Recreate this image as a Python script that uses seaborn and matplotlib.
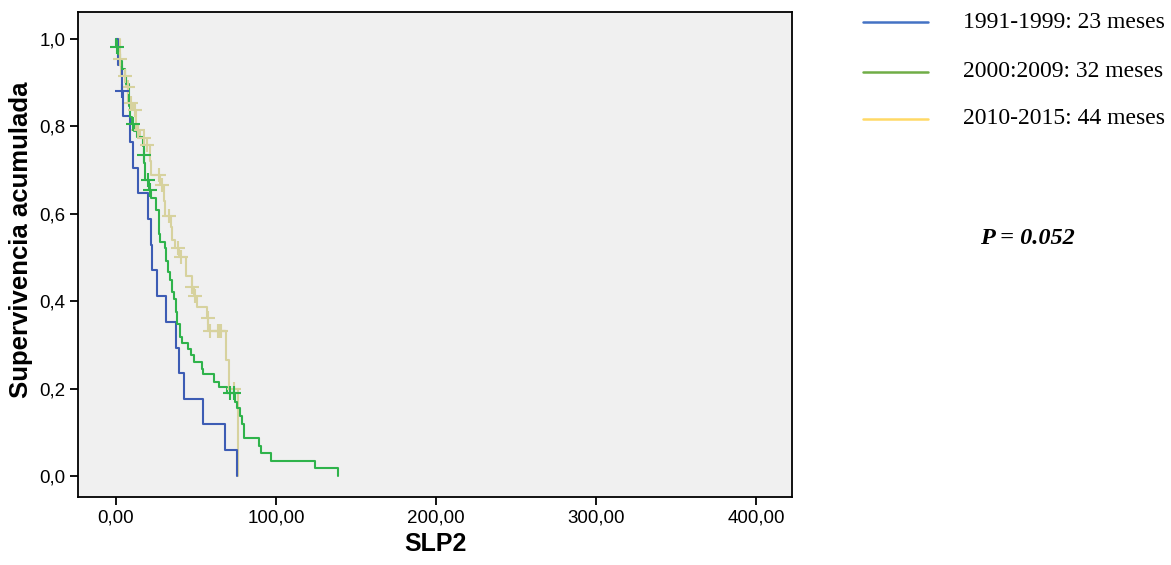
import matplotlib
matplotlib.use("Agg")
import matplotlib.pyplot as plt
from matplotlib.lines import Line2D
import seaborn as sns
import pandas as pd

# ---------------- data ----------------
blue_t = [0, 1.4, 3.8, 4.5, 8.8, 10.8, 13.9, 20.2, 21.7, 22.3, 25.4, 31.2, 37.5,
          39.4, 42.3, 54.4, 68.1, 75.4]
blue_s = [1.0, 0.941, 0.882, 0.824, 0.765, 0.706, 0.647, 0.588, 0.529, 0.471,
          0.412, 0.353, 0.294, 0.235, 0.176, 0.118, 0.059, 0.0]
blue_cens_t = [3.9]
blue_cens_s = [0.882]

green_t = [0, 0.2, 1.4, 2.2, 3.8, 5.5, 6.0, 8.0, 8.3, 8.6, 10.0, 11.0, 13.0, 16.8,
           17.2, 17.8, 18.0, 18.1, 20.6, 21.6, 25.2, 26.8, 27.1, 27.4, 30.6, 31.25,
           32.7, 33.8, 34.8, 36.25, 37.3, 38.3, 40.0, 41.0, 45.2, 46.9, 48.9, 53.6,
           54.2, 61.25, 64.4, 69.2, 74.4, 75.4, 77.5, 78.6, 80.3, 89.6, 90.6, 96.6,
           124.6, 138.6]
green_s = [1.0, 0.983, 0.966, 0.949, 0.932, 0.915, 0.898, 0.881, 0.847, 0.822,
           0.805, 0.790, 0.776, 0.755, 0.735, 0.716, 0.697, 0.678, 0.655, 0.636,
           0.609, 0.590, 0.555, 0.536, 0.521, 0.493, 0.467, 0.449, 0.422, 0.405,
           0.376, 0.349, 0.319, 0.305, 0.291, 0.277, 0.260, 0.246, 0.233, 0.216,
           0.203, 0.189, 0.170, 0.155, 0.137, 0.119, 0.086, 0.069, 0.052, 0.034,
           0.0176, 0.0]
green_cens_t = [0.5, 10.5, 17.5, 20.0, 21.2, 71.2, 74.0]
green_cens_s = [0.983, 0.805, 0.735, 0.678, 0.655, 0.189, 0.189]

tan_t = [0, 2.5, 3.0, 6.5, 7.8, 10.5, 12.5, 15.0, 17.8, 21.5, 21.9, 27.8, 30.0,
         30.5, 34.6, 34.8, 36.9, 39.5, 43.6, 43.8, 47.3, 48.5, 50.4, 56.6, 57.8,
         68.8, 70.8, 76.2]
tan_s = [1.0, 0.955, 0.915, 0.890, 0.853, 0.838, 0.792, 0.773, 0.757, 0.720,
         0.688, 0.666, 0.630, 0.596, 0.570, 0.540, 0.522, 0.501, 0.480, 0.458,
         0.432, 0.412, 0.387, 0.362, 0.333, 0.265, 0.200, 0.0]
tan_cens_t = [2.6, 5.5, 7.5, 9.4, 11.9, 13.8, 17.5, 19.4, 26.9, 29.0, 33.0, 38.7,
              40.6, 47.8, 49.4, 57.5, 58.8, 63.5, 64.5, 65.5, 73.8]
tan_cens_s = [0.955, 0.915, 0.890, 0.853, 0.838, 0.792, 0.773, 0.757, 0.688, 0.666,
              0.596, 0.522, 0.501, 0.432, 0.412, 0.362, 0.333, 0.333, 0.333, 0.333,
              0.200]

legend_labels = ["1991-1999: 23 meses", "2000:2009: 32 meses", "2010-2015: 44 meses"]
x_ticks = [0, 100, 200, 300, 400]
x_ticklabels = ["0,00", "100,00", "200,00", "300,00", "400,00"]
y_ticks = [0.0, 0.2, 0.4, 0.6, 0.8, 1.0]
y_ticklabels = ["0,0", "0,2", "0,4", "0,6", "0,8", "1,0"]
p_text = "P = 0.052"

# ---------------- styling ----------------
sns.set_style("ticks")
plt.rcParams['font.family'] = ['Liberation Sans', 'DejaVu Sans']
plt.rcParams['text.color'] = 'black'
plt.rcParams['axes.labelcolor'] = 'black'
plt.rcParams['xtick.color'] = 'black'
plt.rcParams['ytick.color'] = 'black'

curve_colors = ["#3d5cb4", "#2fb34b", "#d7d29e"]
legend_colors = ["#4472c4", "#70ad47", "#ffd966"]

fig = plt.figure(figsize=(11.71, 5.65), dpi=100)
ax = fig.add_axes([78 / 1171, 1 - 497 / 565, (792 - 78) / 1171, (497 - 12) / 565])
ax.set_facecolor("#f0f0f0")

series = [(tan_t, tan_s, tan_cens_t, tan_cens_s, curve_colors[2]),
          (blue_t, blue_s, blue_cens_t, blue_cens_s, curve_colors[0]),
          (green_t, green_s, green_cens_t, green_cens_s, curve_colors[1])]

for t, s, ct, cs, col in series:
    df = pd.DataFrame({"t": t, "s": s})
    sns.lineplot(data=df, x="t", y="s", drawstyle="steps-post", estimator=None,
                 sort=False, color=col, linewidth=1.5, ax=ax, legend=False)
    dfc = pd.DataFrame({"t": ct, "s": cs})
    sns.scatterplot(data=dfc, x="t", y="s", marker="+", s=110, linewidth=1.5,
                    color=col, ax=ax, legend=False, zorder=3)

ax.set_xlim(-23.75, 422.5)
ax.set_ylim(-0.048, 1.062)
ax.set_xticks(x_ticks)
ax.set_xticklabels(x_ticklabels, fontsize=13.5)
ax.set_yticks(y_ticks)
ax.set_yticklabels(y_ticklabels, fontsize=13.5)
ax.tick_params(axis="both", direction="out", length=6, width=1.3, color="black",
               labelcolor="black", pad=3)
for sp in ax.spines.values():
    sp.set_visible(True)
    sp.set_color("black")
    sp.set_linewidth(1.3)

ax.set_xlabel("SLP2", fontsize=18, fontweight="bold", labelpad=4, color="black")
ax.set_ylabel("Supervivencia acumulada", fontsize=18.5, fontweight="bold",
              color="black")
ax.yaxis.set_label_coords(-0.063, 0.53)

# ---------------- legend (manual, figure coordinates) ----------------
W, H = 1171, 565
for i, (lab, col) in enumerate(zip(legend_labels, legend_colors)):
    ypx = [22.3, 71.7, 119][i]
    fig.add_artist(Line2D([863 / W, 928 / W], [1 - ypx / H, 1 - ypx / H],
                          color=col, linewidth=1.8))
    fig.text(963 / W, 1 - ypx / H, lab, fontsize=17, va="center", ha="left",
             color="black", family=["Liberation Serif", "DejaVu Serif"])

fig.text(1027 / W, 1 - 238 / H, p_text, fontsize=17.5, va="center", ha="center",
         fontweight="bold", fontstyle="italic", color="black",
         family=["Liberation Serif", "DejaVu Serif"])

fig.savefig("out.png", dpi=100, facecolor="white")
